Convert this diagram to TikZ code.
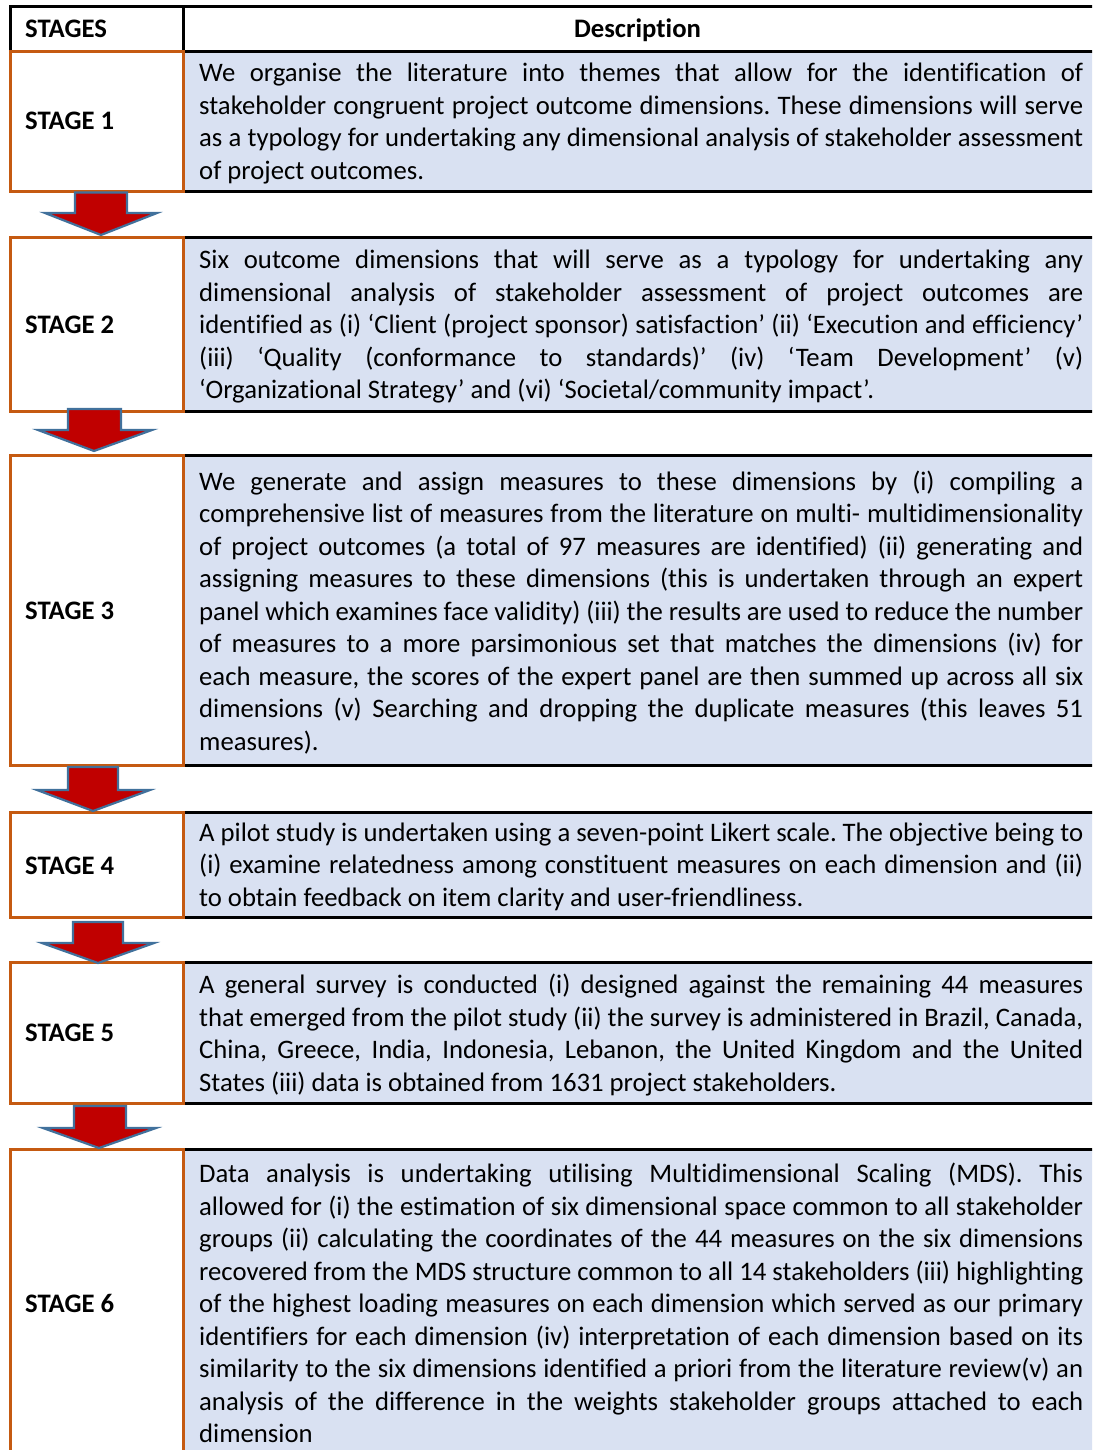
\documentclass[tikz,border=0pt]{standalone}
\usepackage{fontspec}
\setmainfont{Carlito}[Ligatures={TeX,NoCommon}]
\definecolor{cellblue}{HTML}{D9E1F2}
\definecolor{stageorange}{HTML}{C55A11}
\definecolor{arrowred}{HTML}{C00000}
\definecolor{arrowblue}{HTML}{41719C}
\newcommand\jline[1]{\hbox to 884pt{#1}}
\newcommand\lline[1]{\hbox{#1}}
\newcommand\downarrowshape[8]{%
  \draw[blockarrow] (#2,#1) -- (#2,#4) -- (#5,#4) -- (#7,#8) -- (#6,#4) -- (#3,#4) -- (#3,#1) -- cycle;}
\begin{document}
\begin{tikzpicture}[x=1pt,y=-1pt,
  desc/.style={anchor=north west,inner sep=0pt,outer sep=0pt,fill=cellblue,minimum width=915pt},
  stagecell/.style={anchor=north west,inner sep=0pt,outer sep=0pt,fill=white,draw=stageorange,line width=3pt,minimum width=173pt},
  blackline/.style={line width=3pt,black},
  blockarrow/.style={fill=arrowred,draw=arrowblue,line width=2.2pt,line join=miter},
  bodytext/.style={anchor=base west,inner sep=0pt,font=\fontsize{26.7}{32.5}\selectfont\frenchspacing},
  stagelabel/.style={anchor=base west,inner sep=0pt,font=\fontsize{26.7}{32.5}\selectfont\bfseries},
]
\useasboundingbox (0,0) rectangle (1092,1450);
\clip (0,0) rectangle (1092,1450);
% header
\node[anchor=north west,inner sep=0pt,outer sep=0pt,draw=black,line width=3pt,minimum width=173pt,minimum height=45pt] (hl) at (10,6.5) {};
\coordinate (hr) at (1095,6.5);
\draw[blackline] (hl.north west) -- (hr);
% rows
\foreach \n/\t/\b in {1/51.5/191.3, 2/237/411.5, 3/455/765.5, 4/812/917, 5/962/1103.5, 6/1149/1452}{
  \pgfmathsetmacro\h{\b-\t}
  \node[desc,minimum height=\h pt] (d\n) at (183,\t) {};
  \draw[blackline] (d\n.north west) -- (d\n.north east);
  \draw[blackline] (d\n.south west) -- (d\n.south east);
}
\foreach \n/\t/\b in {1/51.5/191.3, 2/237/411.5, 3/455/765.5, 4/812/917, 5/962/1103.5, 6/1149/1452}{
  \pgfmathsetmacro\h{\b-\t}
  \node[stagecell,minimum height=\h pt] (s\n) at (10,\t) {};
}
% arrows
\downarrowshape{192.5}{75}{127}{213}{45}{157}{101}{235}
\downarrowshape{409}{68}{121}{430}{38}{152}{94}{451}
\downarrowshape{767}{68}{118}{790}{37}{150}{93}{811}
\downarrowshape{922}{73}{123}{943}{42}{154}{98}{963}
\downarrowshape{1106}{74}{126}{1128}{43}{156}{99}{1148}
% header text
\node[stagelabel] (hstages) at (25,37.7) {STAGES};
\node[stagelabel,anchor=base] (hdesc) at (637.5,37.7) {Description};
% stage labels
\node[stagelabel] (l1) at (25,130) {STAGE 1};
\node[stagelabel] (l2) at (25,333) {STAGE 2};
\node[stagelabel] (l3) at (25,619) {STAGE 3};
\node[stagelabel] (l4) at (25,874.3) {STAGE 4};
\node[stagelabel] (l5) at (25,1041.5) {STAGE 5};
\node[stagelabel] (l6) at (25,1312.3) {STAGE 6};
% descriptions
\node[bodytext] (t1) at (199,82) {\vtop{%
\jline{We organise the literature into themes that allow for the identification of}
\jline{stakeholder congruent project outcome dimensions. These dimensions will serve}
\jline{as a typology for undertaking any dimensional analysis of stakeholder assessment}
\lline{of project outcomes.}}};
\node[bodytext] (t2) at (199,268.7) {\vtop{%
\jline{Six outcome dimensions that will serve as a typology for undertaking any}
\jline{dimensional analysis of stakeholder assessment of project outcomes are}
\jline{identified as (i) ‘Client (project sponsor) satisfaction’ (ii) ‘Execution and efficiency’}
\jline{(iii) ‘Quality (conformance to standards)’ (iv) ‘Team Development’ (v)}
\lline{‘Organizational Strategy’ and (vi) ‘Societal/community impact’.}}};
\node[bodytext] (t3) at (199,490) {\vtop{%
\jline{We generate and assign measures to these dimensions by (i) compiling a}
\jline{comprehensive list of measures from the literature on multi- multidimensionality}
\jline{of project outcomes (a total of 97 measures are identified) (ii) generating and}
\jline{assigning measures to these dimensions (this is undertaken through an expert}
\jline{panel which examines face validity) (iii) the results are used to reduce the number}
\jline{of measures to a more parsimonious set that matches the dimensions (iv) for}
\jline{each measure, the scores of the expert panel are then summed up across all six}
\jline{dimensions (v) Searching and dropping the duplicate measures (this leaves 51}
\lline{measures).}}};
\node[bodytext] (t4) at (199,841.3) {\vtop{%
\jline{A pilot study is undertaken using a seven-point Likert scale. The objective being to}
\jline{(i) examine relatedness among constituent measures on each dimension and (ii)}
\lline{to obtain feedback on item clarity and user-friendliness.}}};
\node[bodytext] (t5) at (199,993.7) {\vtop{%
\jline{A general survey is conducted (i) designed against the remaining 44 measures}
\jline{that emerged from the pilot study (ii) the survey is administered in Brazil, Canada,}
\jline{China, Greece, India, Indonesia, Lebanon, the United Kingdom and the United}
\lline{States (iii) data is obtained from 1631 project stakeholders.}}};
\node[bodytext] (t6) at (199,1182.5) {\vtop{%
\jline{Data analysis is undertaking utilising Multidimensional Scaling (MDS). This}
\jline{allowed for (i) the estimation of six dimensional space common to all stakeholder}
\jline{groups (ii) calculating the coordinates of the 44 measures on the six dimensions}
\jline{recovered from the MDS structure common to all 14 stakeholders (iii) highlighting}
\jline{of the highest loading measures on each dimension which served as our primary}
\jline{identifiers for each dimension (iv) interpretation of each dimension based on its}
\jline{similarity to the six dimensions identified a priori from the literature review(v) an}
\jline{analysis of the difference in the weights stakeholder groups attached to each}
\lline{dimension}}};
\end{tikzpicture}
\end{document}
